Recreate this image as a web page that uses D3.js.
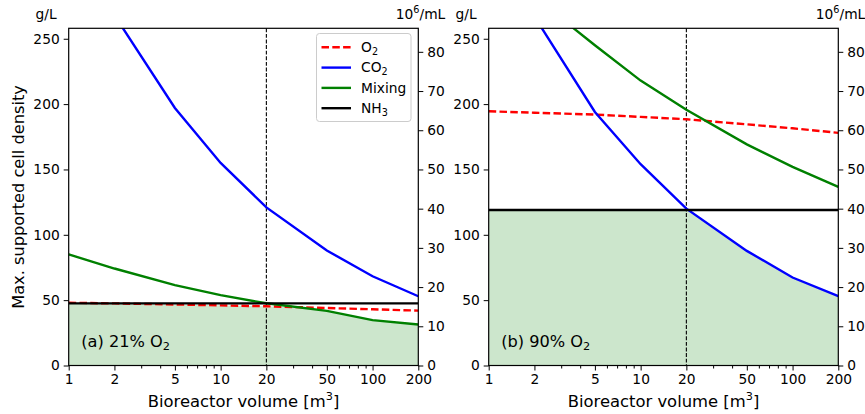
<!DOCTYPE html>
<html><head><meta charset="utf-8">
<script src="https://cdn.jsdelivr.net/npm/d3@7"></script>
<style>
html,body{margin:0;padding:0;background:#fff;}
svg{display:block;font-family:"DejaVu Sans",sans-serif;}
</style></head>
<body><svg id="c" width="865" height="414"></svg>
<script>
// ---- data ----
const volumes = [1, 2, 5, 10, 20, 50, 100, 200];
const o2_21  = [48, 47.5, 46.7, 46, 45.3, 44, 43, 42];
const co2_21 = [345, 268, 197, 155, 121, 88, 68.3, 53];
const mix_21 = [85, 74.2, 61.5, 53.8, 47.6, 41.8, 34.7, 31.4];
const nh3_21 = [47.5, 47.5, 47.5, 47.5, 47.5, 47.5, 47.5, 47.5];
const o2_90  = [194.5, 193.4, 192, 190.2, 188.4, 184.5, 181.5, 178];
const co2_90 = [345, 267, 194, 154, 120, 87.7, 67.3, 53];
const mix_90 = [314, 282, 245, 218, 195.7, 169.2, 152, 136.6];
const nh3_90 = [119, 119, 119, 119, 119, 119, 119, 119];
const xTicks = [1, 2, 5, 10, 20, 50, 100, 200];
const yTicksLeft = [0, 50, 100, 150, 200, 250];
const yTicksRight = [0, 10, 20, 30, 40, 50, 60, 70, 80];
const seriesNames = ["O2", "CO2", "Mixing", "NH3"];
const refVolume = 20;
const yMax = 258;          // g/L
const gPerCell = 3;        // g/L per 10^6/mL

const svg = d3.select("#c");
const plotTop = 28.3, plotBottom = 365.5;
const panels = [
  {x0: 68.7, x1: 418.3, data: [o2_21, co2_21, mix_21, nh3_21], label: ["(a) 21% O", "2"], legend: true},
  {x0: 488.7, x1: 838.3, data: [o2_90, co2_90, mix_90, nh3_90], label: ["(b) 90% O", "2"], legend: false}
];
const colors = ["#ff0000", "#0000ff", "#008000", "#000000"];
const dashes = ["7.5,3.3", null, null, null];
const lw = 2.4;

function subText(sel, main, sub, fs) {
  sel.append("tspan").text(main);
  sel.append("tspan").attr("font-size", fs * 0.7).attr("dy", fs * 0.22).text(sub);
}

panels.forEach((p, pi) => {
  const x = d3.scaleLog().domain([1, 200]).range([p.x0, p.x1]);
  const y = d3.scaleLinear().domain([0, yMax]).range([plotBottom, plotTop]);
  const y2 = d3.scaleLinear().domain([0, yMax / gPerCell]).range([plotBottom, plotTop]);
  const g = svg.append("g");
  const clipId = "clip" + pi;
  svg.append("defs").append("clipPath").attr("id", clipId)
    .append("rect").attr("x", p.x0).attr("y", plotTop).attr("width", p.x1 - p.x0).attr("height", plotBottom - plotTop);

  // envelope (minimum of constraints), evaluated along the piecewise-linear lines
  const interp = (arr, v) => {
    const lv = Math.log(v);
    for (let i = 0; i < volumes.length - 1; i++) {
      const a = Math.log(volumes[i]), b = Math.log(volumes[i + 1]);
      if (lv >= a && lv <= b) { const t = (lv - a) / (b - a); return arr[i] + t * (arr[i + 1] - arr[i]); }
    }
    return arr[arr.length - 1];
  };
  const env = [];
  for (let px = p.x0; px <= p.x1 + 0.01; px += 0.5) {
    const v = x.invert(Math.min(px, p.x1));
    env.push([v, d3.min(p.data, arr => interp(arr, v))]);
  }
  g.append("path").attr("clip-path", `url(#${clipId})`)
    .attr("d", d3.area().x(d => x(d[0])).y0(y(0)).y1(d => y(d[1]))(env))
    .attr("fill", "#008000").attr("fill-opacity", 0.2);

  // reference vertical line
  g.append("line").attr("x1", x(refVolume)).attr("x2", x(refVolume)).attr("y1", plotTop).attr("y2", plotBottom)
    .attr("stroke", "#000").attr("stroke-width", 1.1).attr("stroke-dasharray", "3.9,1.7");

  // series lines
  const lineGen = d3.line().x((d, i) => x(volumes[i])).y(d => y(d));
  p.data.forEach((arr, si) => {
    g.append("path").attr("clip-path", `url(#${clipId})`).attr("d", lineGen(arr))
      .attr("fill", "none").attr("stroke", colors[si]).attr("stroke-width", lw)
      .attr("stroke-dasharray", dashes[si]);
  });

  // axes
  g.append("g").attr("transform", `translate(0,${plotBottom})`)
    .call(d3.axisBottom(x).tickValues(xTicks).tickFormat(d3.format("d")).tickSize(5).tickPadding(4));
  const minor = [];
  [1, 10, 100].forEach(dec => { for (let k = 2; k <= 9; k++) { const v = dec * k; if (v <= 200 && !xTicks.includes(v)) minor.push(v); } });
  g.append("g").attr("transform", `translate(0,${plotBottom})`)
    .call(d3.axisBottom(x).tickValues(minor).tickFormat("").tickSize(3));
  g.append("g").attr("transform", `translate(${p.x0},0)`)
    .call(d3.axisLeft(y).tickValues(yTicksLeft).tickSize(5).tickPadding(4));
  g.append("g").attr("transform", `translate(${p.x1},0)`)
    .call(d3.axisRight(y2).tickValues(yTicksRight).tickSize(5).tickPadding(4));
  g.selectAll(".tick text").attr("font-size", 13.8).attr("font-family", "DejaVu Sans").attr("fill", "#000");
  g.selectAll(".tick line").attr("stroke", "#000").attr("stroke-width", 1);
  g.selectAll(".domain").remove();
  g.append("rect").attr("x", p.x0).attr("y", plotTop).attr("width", p.x1 - p.x0).attr("height", plotBottom - plotTop)
    .attr("fill", "none").attr("stroke", "#000").attr("stroke-width", 1.2);

  // units
  g.append("text").attr("x", p.x0 - 12).attr("y", 19).attr("text-anchor", "end").attr("font-size", 13.8).text("g/L");
  const u = g.append("text").attr("x", p.x1 + 27).attr("y", 19).attr("text-anchor", "end").attr("font-size", 13.8);
  u.append("tspan").text("10");
  u.append("tspan").attr("font-size", 9.7).attr("dy", -6).text("6");
  u.append("tspan").attr("dy", 6).text("/mL");

  // x axis label
  const xl = g.append("text").attr("x", (p.x0 + p.x1) / 2).attr("y", 407).attr("text-anchor", "middle").attr("font-size", 16.4);
  xl.append("tspan").text("Bioreactor volume [m");
  xl.append("tspan").attr("font-size", 11.3).attr("dy", -7).text("3");
  xl.append("tspan").attr("dy", 7).text("]");

  // panel label
  const pl = g.append("text").attr("x", p.x0 + 12.5).attr("y", 346.5).attr("font-size", 16.2);
  subText(pl, p.label[0], p.label[1], 16.2);

  if (p.legend) {
    const lg = g.append("g");
    lg.append("rect").attr("x", 316.5).attr("y", 33.5).attr("width", 94.5).attr("height", 88).attr("rx", 3)
      .attr("fill", "#fff").attr("fill-opacity", 0.8).attr("stroke", "#cccccc").attr("stroke-width", 1);
    const subs = [["O", "2"], ["CO", "2"], ["Mixing", ""], ["NH", "3"]];
    subs.forEach((s, i) => {
      const cy = 47.3 + i * 20.3;
      lg.append("line").attr("x1", 321.5).attr("x2", 351).attr("y1", cy).attr("y2", cy)
        .attr("stroke", colors[i]).attr("stroke-width", lw).attr("stroke-dasharray", dashes[i]);
      const t = lg.append("text").attr("x", 361).attr("y", cy + 4.8).attr("font-size", 13.8);
      if (s[1]) subText(t, s[0], s[1], 13.8); else t.text(s[0]);
    });
  }
});

// y axis title
svg.append("text").attr("transform", "translate(24,197) rotate(-90)").attr("text-anchor", "middle")
  .attr("font-size", 16.2).text("Max. supported cell density");
</script>
</body></html>
